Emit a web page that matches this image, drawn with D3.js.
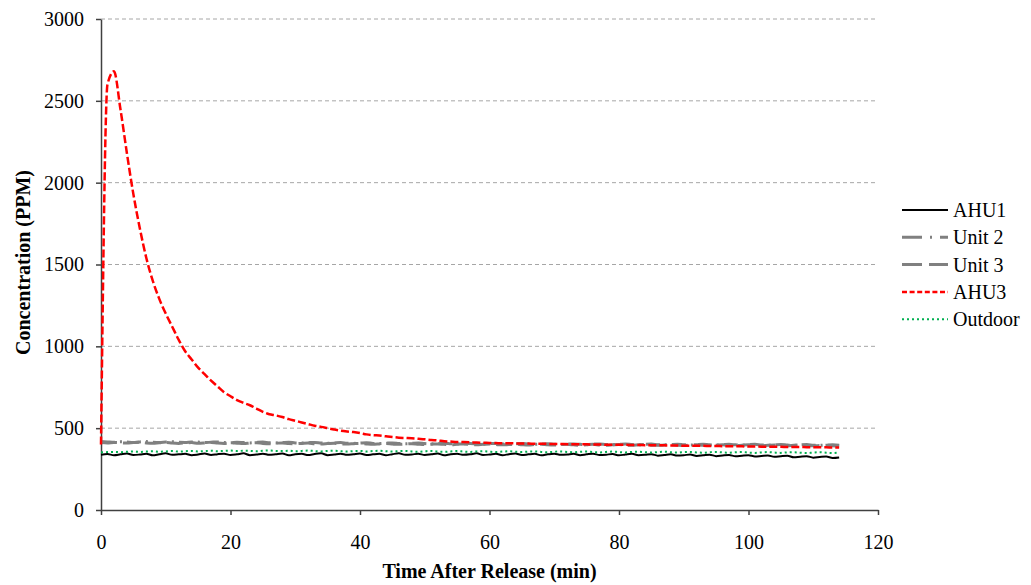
<!DOCTYPE html>
<html>
<head>
<meta charset="utf-8">
<script src="https://cdn.jsdelivr.net/npm/d3@7"></script>
<style>
  body { margin: 0; background: #fff; }
  svg { display: block; }
  svg text { font-family: "Liberation Serif", "Times New Roman", serif; }
</style>
</head>
<body>
<svg id="chart" width="1031" height="585"></svg>
<script>
// time after release (min), one sample per minute
const minutes = [
  0, 1, 2, 3, 4, 5, 6, 7, 8, 9, 10, 11, 12, 13, 14, 15, 16, 17, 18, 19,
  20, 21, 22, 23, 24, 25, 26, 27, 28, 29, 30, 31, 32, 33, 34, 35, 36, 37, 38, 39,
  40, 41, 42, 43, 44, 45, 46, 47, 48, 49, 50, 51, 52, 53, 54, 55, 56, 57, 58, 59,
  60, 61, 62, 63, 64, 65, 66, 67, 68, 69, 70, 71, 72, 73, 74, 75, 76, 77, 78, 79,
  80, 81, 82, 83, 84, 85, 86, 87, 88, 89, 90, 91, 92, 93, 94, 95, 96, 97, 98, 99,
  100, 101, 102, 103, 104, 105, 106, 107, 108, 109, 110, 111, 112, 113, 114
];

const ahu1 = [
  338, 342, 335, 340, 345, 336, 339, 344, 334, 341, 346, 337, 340, 343, 335, 339, 345, 336, 341, 344,
  336, 340, 346, 335, 339, 344, 337, 341, 345, 334, 340, 343, 336, 342, 346, 335, 339, 344, 337, 341,
  345, 336, 340, 343, 335, 341, 346, 337, 339, 344, 336, 340, 345, 335, 341, 343, 337, 340, 346, 336,
  339, 344, 335, 341, 345, 336, 340, 343, 334, 340, 344, 337, 339, 343, 335, 340, 344, 336, 338, 342,
  334, 339, 343, 335, 337, 341, 332, 336, 340, 333, 335, 339, 330, 334, 338, 329, 333, 336, 328, 332,
  335, 327, 330, 333, 325, 329, 332, 322, 326, 329, 320, 324, 327, 318, 321
];

const unit2 = [
  418, 416, 414, 417, 415, 413, 416, 418, 414, 412, 415, 417, 414, 413, 416, 415, 412, 414, 416, 413,
  411, 414, 412, 410, 413, 415, 411, 410, 412, 414, 410, 409, 411, 413, 409, 408, 410, 412, 408, 407,
  409, 411, 407, 406, 408, 410, 407, 405, 407, 409, 406, 404, 406, 408, 405, 403, 405, 407, 404, 402,
  405, 407, 403, 402, 404, 406, 403, 401, 403, 405, 402, 400, 402, 404, 401, 399, 402, 404, 400, 399,
  401, 403, 400, 398, 401, 403, 399, 398, 400, 402, 399, 397, 400, 402, 398, 397, 399, 401, 398, 396,
  399, 401, 397, 396, 398, 400, 397, 395, 398, 400, 396, 395, 397, 399, 396
];

const unit3 = [
  412, 410, 413, 411, 409, 412, 414, 410, 408, 411, 413, 409, 407, 410, 412, 408, 410, 413, 409, 407,
  410, 408, 406, 409, 411, 407, 405, 408, 410, 406, 405, 407, 409, 405, 404, 406, 408, 404, 403, 405,
  407, 404, 402, 404, 406, 403, 401, 403, 405, 402, 400, 402, 404, 401, 399, 402, 404, 400, 399, 401,
  403, 400, 398, 400, 402, 399, 397, 400, 402, 398, 397, 399, 401, 398, 396, 399, 401, 397, 396, 398,
  400, 397, 395, 398, 400, 396, 395, 397, 399, 396, 394, 397, 399, 395, 394, 396, 398, 395, 393, 396,
  398, 394, 393, 395, 397, 394, 392, 395, 397, 393, 392, 394, 396, 393, 391
];

const ahu3 = [
  400, 2600, 2680, 2450, 2180, 1930, 1720, 1540, 1400, 1290, 1200, 1120, 1040, 970, 920, 870, 830, 790, 755, 720,
  695, 672, 655, 640, 620, 600, 585, 578, 568, 555, 545, 535, 525, 515, 508, 500, 492, 485, 480, 476,
  470, 462, 457, 455, 450, 446, 442, 440, 438, 435, 432, 428, 425, 420, 418, 416, 415, 414, 412, 411,
  410, 409, 408, 408, 407, 406, 406, 405, 405, 404, 404, 403, 402, 402, 401, 401, 400, 400, 399, 399,
  398, 398, 397, 397, 396, 396, 395, 395, 394, 394, 393, 393, 392, 392, 391, 391, 390, 390, 389, 389,
  388, 388, 387, 387, 386, 386, 385, 385, 385, 384, 384, 383, 383, 382, 382
];

const outdoor = [
  352, 354, 355, 353, 356, 358, 355, 357, 359, 356, 358, 360, 357, 359, 361, 358, 360, 362, 359, 361,
  363, 360, 362, 361, 359, 362, 364, 361, 360, 362, 359, 361, 363, 360, 358, 361, 362, 359, 357, 360,
  361, 358, 360, 362, 359, 357, 360, 361, 358, 356, 359, 361, 357, 355, 358, 360, 357, 355, 358, 359,
  356, 354, 357, 359, 356, 354, 357, 358, 355, 353, 356, 358, 355, 353, 356, 357, 354, 352, 355, 357,
  354, 352, 355, 356, 353, 351, 354, 356, 353, 351, 354, 355, 352, 350, 353, 355, 352, 350, 353, 354,
  351, 349, 352, 354, 351, 349, 352, 353, 350, 348, 351, 353, 350, 348, 351
];

const seriesNames = ['AHU1', 'Unit 2', 'Unit 3', 'AHU3', 'Outdoor'];
const seriesValues = [ahu1, unit2, unit3, ahu3, outdoor];
const xTicks = [0, 20, 40, 60, 80, 100, 120];
const yTicks = [0, 500, 1000, 1500, 2000, 2500, 3000];

const FONT = '"Liberation Serif", "Times New Roman", serif';
const FONT_SIZE = 20;

// line styles per series (stroke, width, dash in plot, dash in legend)
const styles = {
  'AHU1': { color: '#000000', width: 2, dash: null, legendDash: null },
  'Unit 2': { color: '#808080', width: 3, dash: '14,5,2,5', legendDash: '20,8,2,8' },
  'Unit 3': { color: '#808080', width: 3, dash: '16,6', legendDash: '20,7' },
  'AHU3': { color: '#ff0000', width: 2.5, dash: '8,3', legendDash: '5,2.6' },
  'Outdoor': { color: '#00b050', width: 2, dash: '2,3', legendDash: '2,3' }
};

const svg = d3.select('svg#chart');
const margin = { left: 101, right: 153, top: 19, bottom: 75 };
const width = 1031;
const height = 585;

const x = d3.scaleLinear().domain([0, 120]).range([margin.left, width - margin.right]);
const y = d3.scaleLinear().domain([0, 3000]).range([height - margin.bottom, margin.top]);

// horizontal grid lines
svg.append('g')
  .selectAll('line')
  .data(yTicks.filter((d) => d > 0))
  .enter()
  .append('line')
  .attr('x1', x(0))
  .attr('x2', x(120))
  .attr('y1', (d) => y(d))
  .attr('y2', (d) => y(d))
  .attr('stroke', '#a6a6a6')
  .attr('stroke-width', 1)
  .attr('stroke-dasharray', '4,3');

// axes
const xAxis = svg.append('g')
  .attr('transform', `translate(0,${y(0)})`)
  .call(d3.axisBottom(x).tickValues(xTicks).tickFormat(d3.format('d'))
    .tickSize(5).tickPadding(20).tickSizeOuter(0));
const yAxis = svg.append('g')
  .attr('transform', `translate(${x(0)},0)`)
  .call(d3.axisLeft(y).tickValues(yTicks).tickFormat(d3.format('d'))
    .tickSize(5).tickPadding(12).tickSizeOuter(0));

[xAxis, yAxis].forEach((ax) => {
  ax.attr('font-family', FONT).attr('font-size', FONT_SIZE);
  ax.select('.domain').attr('stroke', '#404040').attr('stroke-width', 1.5);
  ax.selectAll('.tick line').attr('stroke', '#404040').attr('stroke-width', 1.5);
  ax.selectAll('.tick text').attr('fill', '#000');
});

// data lines
const lineFunction = d3.line()
  .x((val, idx) => x(minutes[idx]))
  .y((val) => y(val))
  .curve(d3.curveMonotoneX);

svg.append('g')
  .selectAll('path')
  .data(seriesNames)
  .enter()
  .append('path')
  .attr('d', (name, idx) => lineFunction(seriesValues[idx]))
  .attr('fill', 'none')
  .attr('stroke', (name) => styles[name].color)
  .attr('stroke-width', (name) => styles[name].width)
  .attr('stroke-dasharray', (name) => styles[name].dash)
  .attr('stroke-linejoin', 'round');

// axis titles
svg.append('text')
  .attr('x', (x(0) + x(120)) / 2)
  .attr('y', 578)
  .attr('text-anchor', 'middle')
  .attr('font-size', FONT_SIZE)
  .attr('font-weight', 'bold')
  .text('Time After Release (min)');

svg.append('text')
  .attr('transform', `translate(30,${(y(0) + y(3000)) / 2 - 2}) rotate(-90)`)
  .attr('text-anchor', 'middle')
  .attr('font-size', FONT_SIZE)
  .attr('font-weight', 'bold')
  .text('Concentration (PPM)');

// legend
const LEGEND_TOP = 210;
const LEGEND_SPACING = 27.3;
const legend = svg.append('g')
  .selectAll('g')
  .data(seriesNames)
  .enter()
  .append('g')
  .attr('transform', (name, idx) => `translate(902,${LEGEND_TOP + idx * LEGEND_SPACING})`);

legend.append('line')
  .attr('x1', 0)
  .attr('x2', 46)
  .attr('stroke', (name) => styles[name].color)
  .attr('stroke-width', (name) => styles[name].width)
  .attr('stroke-dasharray', (name) => styles[name].legendDash);

legend.append('text')
  .attr('x', 51)
  .attr('dy', '0.35em')
  .attr('font-size', FONT_SIZE)
  .text((name) => name);
</script>
</body>
</html>
